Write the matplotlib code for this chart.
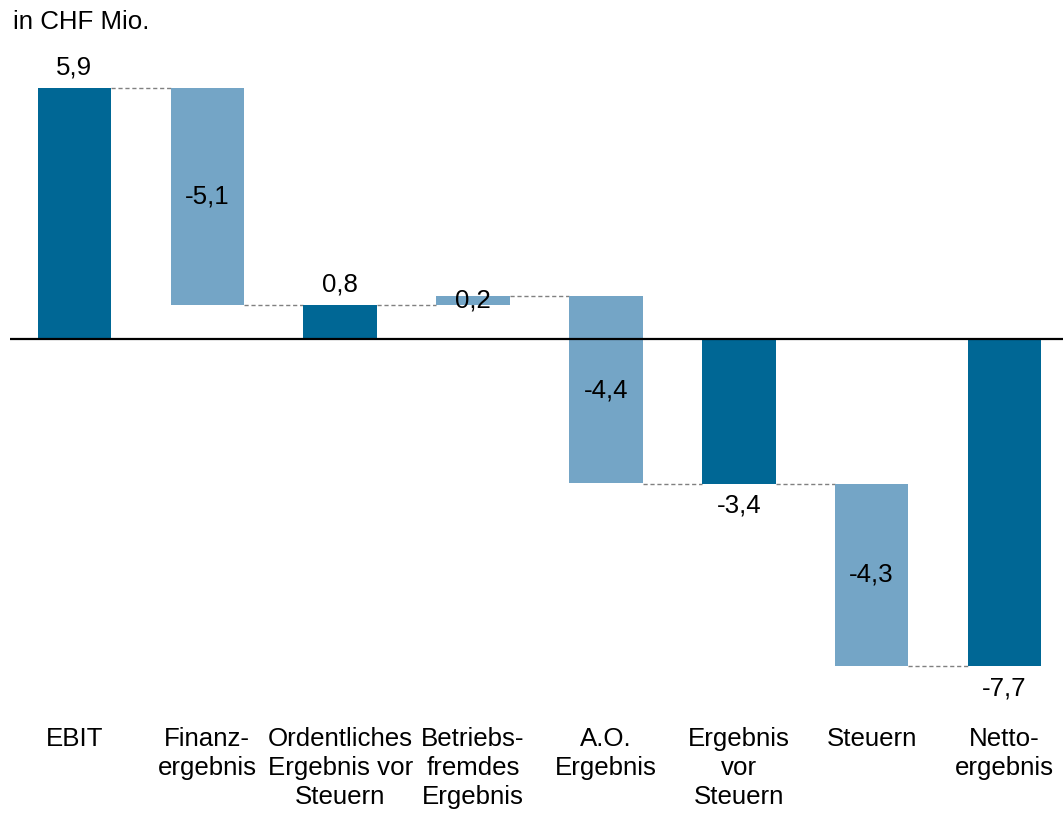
import matplotlib
matplotlib.use("Agg")
import matplotlib.pyplot as plt
import matplotlib.transforms as mtransforms

plt.rcParams['font.family'] = ['Liberation Sans', 'DejaVu Sans']

categories = ["EBIT", "Finanz-\nergebnis", "Ordentliches\nErgebnis vor\nSteuern",
              "Betriebs-\nfremdes\nErgebnis", "A.O.\nErgebnis", "Ergebnis\nvor\nSteuern",
              "Steuern", "Netto-\nergebnis"]
values = [5.9, -5.1, 0.8, 0.2, -4.4, -3.4, -4.3, -7.7]
kinds = ["total", "delta", "total", "delta", "delta", "total", "delta", "total"]
value_labels = ["5,9", "-5,1", "0,8", "0,2", "-4,4", "-3,4", "-4,3", "-7,7"]
unit_label = "in CHF Mio."

DARK = "#006795"
LIGHT = "#74A5C6"
FS = 18.6

W, H = 1063, 813
fig = plt.figure(figsize=(W / 100, H / 100), dpi=100)

# axes placement in pixels
ax_left, ax_right = 10, 1063
ax_top, ax_bottom = 60, 700
ax = fig.add_axes([ax_left / W, (H - ax_bottom) / H, (ax_right - ax_left) / W, (ax_bottom - ax_top) / H])

px_per_unit = 42.5
zero_px = 339
ax.set_ylim(-(ax_bottom - zero_px) / px_per_unit, (zero_px - ax_top) / px_per_unit)
unit_x = 132.86
ax.set_xlim(-(74.5 - ax_left) / unit_x, 7 + (ax_right - 1004.5) / unit_x)
ax.axis("off")

width = 0.553
running = 0.0
bottoms, heights, ends = [], [], []
for v, k in zip(values, kinds):
    if k == "total":
        b, h = 0.0, v
        running = v
    else:
        b, h = running, v
        running = running + v
    bottoms.append(b)
    heights.append(h)
    ends.append(running)

colors = [DARK if k == "total" else LIGHT for k in kinds]
xs = list(range(len(values)))
ax.bar(xs, heights, bottom=bottoms, width=width, color=colors, zorder=2)

ax.axhline(0, color="black", linewidth=1.6, zorder=3)

# connectors
for i in range(len(values) - 1):
    ax.plot([i + width / 2, i + 1 - width / 2], [ends[i], ends[i]],
            color="#808080", linewidth=1.0, linestyle=(0, (3, 2)), zorder=1)

# value labels
for i, (v, k, lab) in enumerate(zip(values, kinds, value_labels)):
    top = max(bottoms[i], bottoms[i] + heights[i])
    bot = min(bottoms[i], bottoms[i] + heights[i])
    if k == "total" and v > 0:
        ax.annotate(lab, (i, top), xytext=(0, 15), textcoords="offset points",
                    ha="center", va="center", fontsize=FS)
    elif k == "total":
        ax.annotate(lab, (i, bot), xytext=(0, -16), textcoords="offset points",
                    ha="center", va="center", fontsize=FS)
    else:
        ax.annotate(lab, (i, (top + bot) / 2), xytext=(0, 0), textcoords="offset points",
                    ha="center", va="center", fontsize=FS)

# category labels
trans = mtransforms.blended_transform_factory(ax.transData, fig.transFigure)
for i, c in enumerate(categories):
    ax.text(i, (H - 727) / H, c, transform=trans, ha="center", va="top",
            fontsize=FS, linespacing=1.27, clip_on=False)

fig.text(13 / W, (H - 22) / H, unit_label, ha="left", va="center", fontsize=FS)

fig.savefig("out.png", dpi=100)
